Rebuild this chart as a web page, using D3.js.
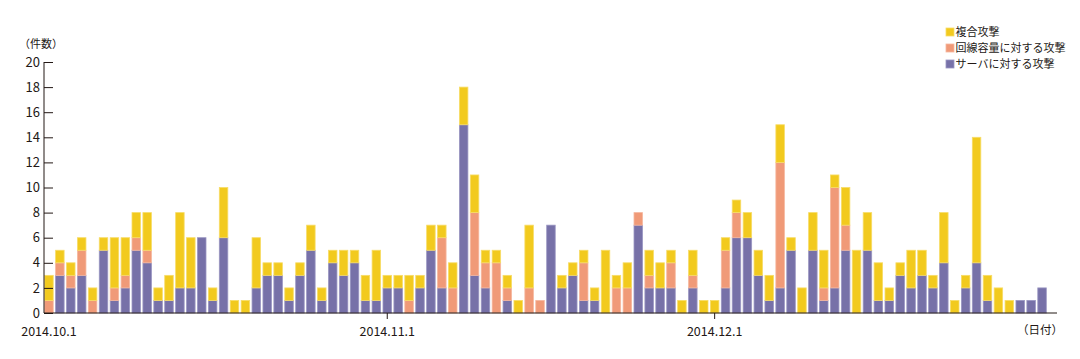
<!DOCTYPE html>
<html>
<head>
<meta charset="utf-8">
<script src="https://cdn.jsdelivr.net/npm/d3@7"></script>
<style>
	body { margin: 0; background: #fff; }
	svg text { font-family: "Noto Sans CJK JP", "Noto Sans", sans-serif; fill: #231815; }
</style>
</head>
<body>
<div id="chart-box"></div>
<script>
// DATA: daily attack counts, 2014.10.1 - 2014.12.31
const startDate = new Date(2014, 9, 1);
const endDate = new Date(2015, 0, 1);
const dates = d3.timeDay.range(startDate, endDate);

const seriesNames = ["サーバに対する攻撃", "回線容量に対する攻撃", "複合攻撃"];
const seriesColors = ["#7771a8", "#f09a78", "#f2ca1e"];
const seriesStroke = ["#9a96c2", "#f6b79e", "#f7dc68"];

const serverAttacks = [
	0, 3, 2, 3, 0, 5, 1, 2, 5, 4, 1, 1, 2, 2, 6, 1, 6, 0, 0, 2,
	3, 3, 1, 3, 5, 1, 4, 3, 4, 1, 1,
	2, 2, 0, 2, 5, 2, 0, 15, 3, 2, 0, 1, 0, 0, 0, 7, 2, 3, 1,
	1, 0, 0, 0, 7, 2, 2, 2, 0, 2, 0,
	0, 2, 6, 6, 3, 1, 2, 5, 0, 5, 1, 2, 5, 0, 5, 1, 1, 3, 2,
	3, 2, 4, 0, 2, 4, 1, 0, 0, 1, 1, 2
];
const bandwidthAttacks = [
	1, 1, 1, 2, 1, 0, 1, 1, 1, 1, 0, 0, 0, 0, 0, 0, 0, 0, 0, 0,
	0, 0, 0, 0, 0, 0, 0, 0, 0, 0, 0,
	0, 0, 1, 0, 0, 4, 2, 0, 5, 2, 4, 1, 0, 2, 1, 0, 0, 0, 3,
	0, 0, 2, 2, 1, 1, 0, 2, 0, 1, 0,
	0, 3, 2, 0, 0, 0, 10, 0, 0, 0, 1, 8, 2, 0, 0, 0, 0, 0, 0,
	0, 0, 0, 0, 0, 0, 0, 0, 0, 0, 0, 0
];
const complexAttacks = [
	2, 1, 1, 1, 1, 1, 4, 3, 2, 3, 1, 2, 6, 4, 0, 1, 4, 1, 1, 4,
	1, 1, 1, 1, 2, 1, 1, 2, 1, 2, 4,
	1, 1, 2, 1, 2, 1, 2, 3, 3, 1, 1, 1, 1, 5, 0, 0, 1, 1, 1,
	1, 5, 1, 2, 0, 2, 2, 1, 1, 2, 1,
	1, 1, 1, 2, 2, 2, 3, 1, 2, 3, 3, 1, 3, 5, 3, 3, 1, 1, 3,
	2, 1, 4, 1, 1, 10, 2, 2, 1, 0, 0, 0
];
const yTicks = [0, 2, 4, 6, 8, 10, 12, 14, 16, 18, 20];
const xTickDates = [new Date(2014, 9, 1), new Date(2014, 10, 1), new Date(2014, 11, 1)];


// SVG DIMENSIONS
const width = 1080;
const height = 359;
const svg = d3.select("#chart-box")
	.append("svg")
	.attr("width", width)
	.attr("height", height);

const rows = dates.map((d, i) => ({
	date: d,
	server: serverAttacks[i],
	bandwidth: bandwidthAttacks[i],
	complex: complexAttacks[i]
}));
const keys = ["server", "bandwidth", "complex"];
const stacked = d3.stack().keys(keys)(rows);


// SCALES
const x = d3.scaleBand()
	.domain(dates.map(d => +d))
	.range([43.5, 1047.5])
	.paddingInner(0.22)
	.paddingOuter(0.11);
const y = d3.scaleLinear()
	.domain([0, 20])
	.range([313, 62]);


// BARS
svg.append("g")
	.selectAll("g")
	.data(stacked)
	.join("g")
		.attr("fill", (d, i) => seriesColors[i])
		.attr("stroke", (d, i) => seriesStroke[i])
		.attr("stroke-width", 0.8)
	.selectAll("rect")
	.data(d => d.filter(s => s[1] > s[0]))
	.join("rect")
		.attr("x", d => x(+d.data.date))
		.attr("width", x.bandwidth())
		.attr("y", d => y(d[1]))
		.attr("height", d => y(d[0]) - y(d[1]));


// Y AXIS (inner ticks)
const yAxis = svg.append("g")
	.attr("transform", "translate(44,0)")
	.call(d3.axisRight(y).tickValues(yTicks).tickSize(9).tickFormat(""));
yAxis.select(".domain").attr("d", "M0,62V313").attr("stroke", "#231815");
yAxis.selectAll(".tick line").attr("stroke", "#231815");

svg.append("g")
	.selectAll("text")
	.data(yTicks)
	.join("text")
		.attr("x", 40)
		.attr("y", d => y(d))
		.attr("dy", "0.36em")
		.attr("text-anchor", "end")
		.attr("font-size", 13)
		.text(d => d);


// X AXIS
svg.append("line")
	.attr("x1", 44).attr("x2", 1057)
	.attr("y1", 313).attr("y2", 313)
	.attr("stroke", "#231815");

const fmt = d3.timeFormat("%Y.%-m.%-d");
const xTick = svg.append("g")
	.selectAll("g")
	.data(xTickDates)
	.join("g")
		.attr("transform", d => `translate(${x(+d) + x.bandwidth() / 2},313)`);
xTick.filter((d, i) => i > 0)
	.append("line")
		.attr("y2", 6)
		.attr("stroke", "#231815");
xTick.append("text")
	.attr("y", 23)
	.attr("text-anchor", "middle")
	.attr("font-size", 12.5)
	.text(d => fmt(d));


// AXIS TITLES
svg.append("text")
	.attr("x", 19).attr("y", 48)
	.attr("font-size", 11)
	.text("（件数）");
svg.append("text")
	.attr("x", 1017).attr("y", 334)
	.attr("font-size", 11.5)
	.text("（日付）");


// LEGEND (top item drawn last in the stack)
const legendOrder = [2, 1, 0];
const legend = svg.append("g")
	.selectAll("g")
	.data(legendOrder)
	.join("g")
		.attr("transform", (d, i) => `translate(946,${32 + i * 16})`);
legend.append("rect")
	.attr("y", -4)
	.attr("width", 8).attr("height", 8)
	.attr("fill", d => seriesColors[d])
	.attr("stroke", d => seriesStroke[d])
	.attr("stroke-width", 0.8);
legend.append("text")
	.attr("x", 9.5)
	.attr("dy", "0.36em")
	.attr("font-size", 11)
	.text(d => seriesNames[d]);
</script>
</body>
</html>
